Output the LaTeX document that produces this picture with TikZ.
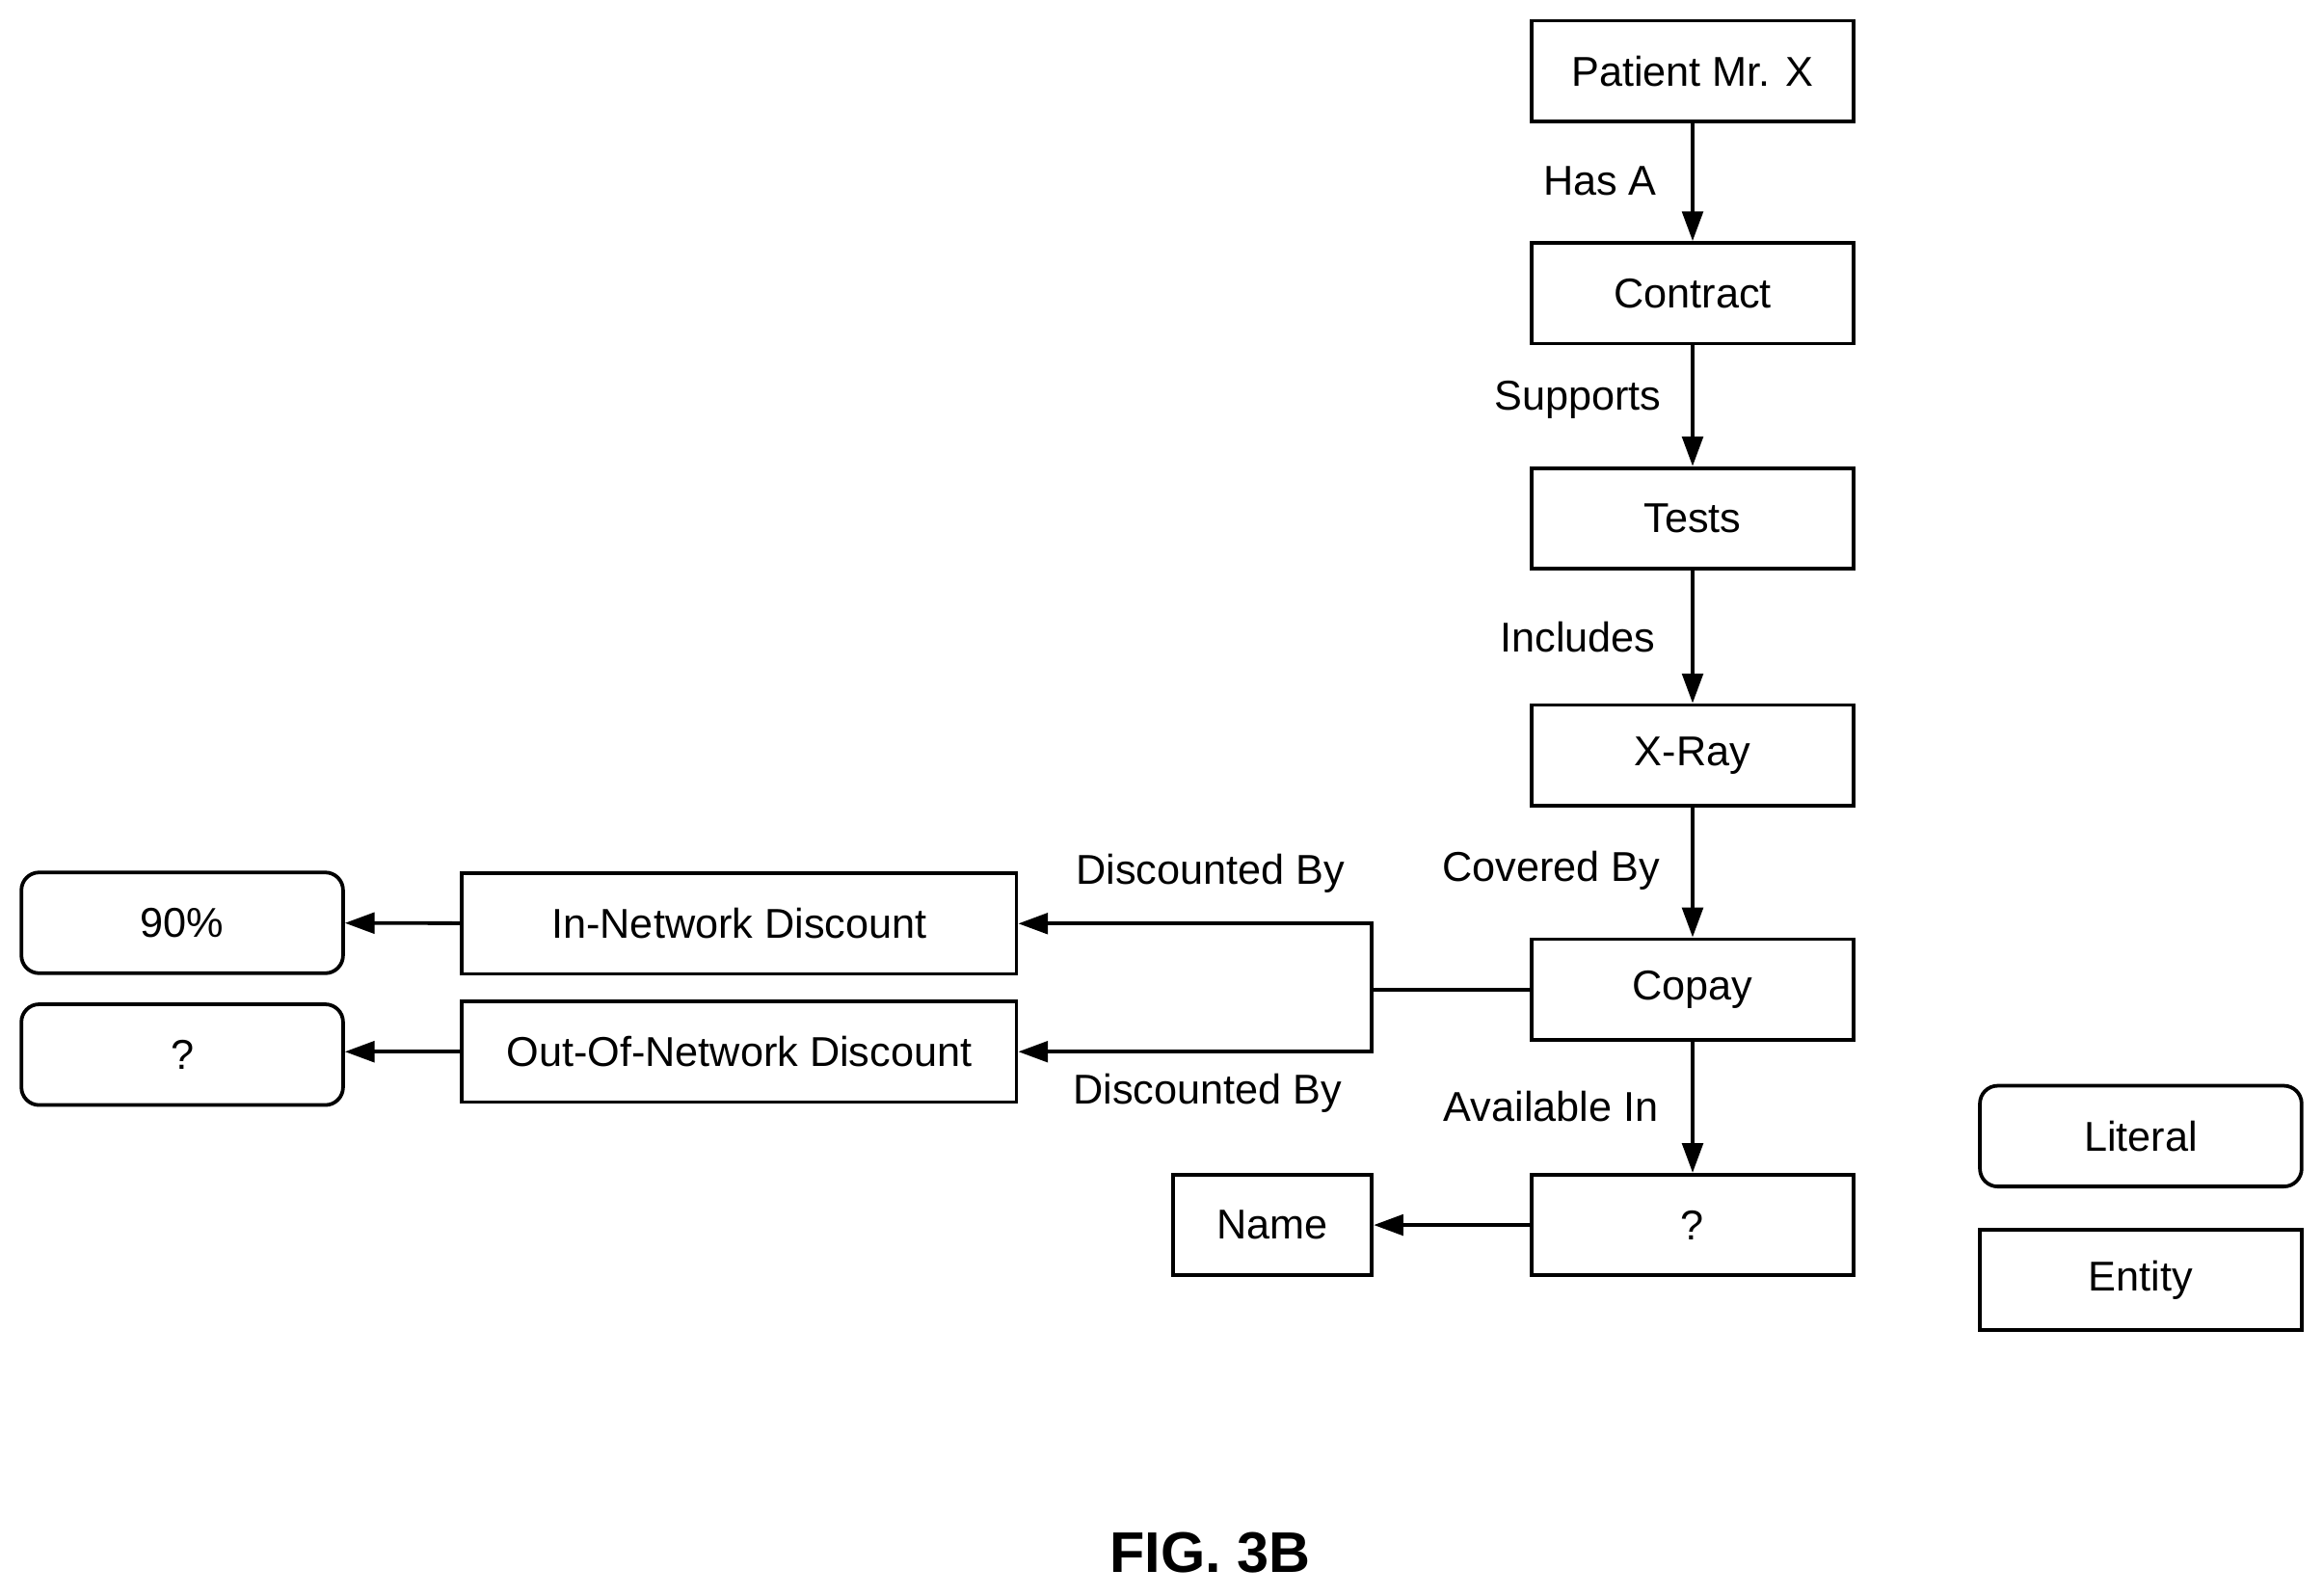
\documentclass[tikz,border=0pt]{standalone}
\usepackage{fontspec}
\setmainfont{Liberation Sans}
\usetikzlibrary{arrows.meta}
\begin{document}
\begin{tikzpicture}[x=0.01cm,y=-0.01cm,
  font=\fontsize{8}{9.6}\selectfont,
  ent/.style={draw,line width=0.7pt,minimum width=2.17cm,minimum height=0.68cm,inner sep=0pt},
  lit/.style={ent,rounded corners=0.12cm},
  arr/.style={line width=0.7pt,-{Triangle[length=0.2cm,width=0.14cm]}},
  lbl/.style={inner sep=0pt}]
\useasboundingbox (0,0) rectangle (1568,1077);
\node[ent] (p) at (1142.5,48) {Patient Mr. X};
\node[ent] (c) at (1142.5,198) {Contract};
\node[ent] (t) at (1142.5,350) {Tests};
\node[ent] (x) at (1142.5,510) {X-Ray};
\node[ent] (cp) at (1142.5,668) {Copay};
\node[ent] (q) at (1142.5,827) {?};
\node[ent,minimum width=1.34cm] (n) at (859,827) {Name};
\node[ent,minimum width=3.74cm] (in) at (499,623.5) {In-Network Discount};
\node[ent,minimum width=3.74cm] (out) at (499,710) {Out-Of-Network Discount};
\node[lit] (l90) at (123,623) {90\%};
\node[lit] (lq) at (123,712) {?};
\node[lit] (lit) at (1445,767) {Literal};
\node[ent] (en) at (1445,864) {Entity};
\draw[arr] (p) -- (c);
\draw[arr] (c) -- (t);
\draw[arr] (t) -- (x);
\draw[arr] (x) -- (cp);
\draw[arr] (cp) -- (q);
\draw[arr] (q) -- (n);
\coordinate (j) at (926,668);
\draw[line width=0.7pt] (cp.west) -- (j);
\draw[arr] (j) |- (in.east);
\draw[arr] (j) |- (out.east);
\draw[arr] (in) -- (l90);
\draw[arr] (out.west) -- (lq.east |- out.west);
\node[lbl] (a1) at (1080,122) {Has A};
\node[lbl] (a2) at (1065,270) {Supports};
\node[lbl] (a3) at (1065,430) {Includes};
\node[lbl] (a4) at (1047,588) {Covered By};
\node[lbl] (a5) at (1047,747) {Available In};
\node[lbl] (a6) at (817,590) {Discounted By};
\node[lbl] (a7) at (815,738) {Discounted By};
\node[lbl,font=\fontsize{11}{13}\selectfont\bfseries] (fig) at (817,1048) {FIG. 3B};
\end{tikzpicture}
\end{document}
